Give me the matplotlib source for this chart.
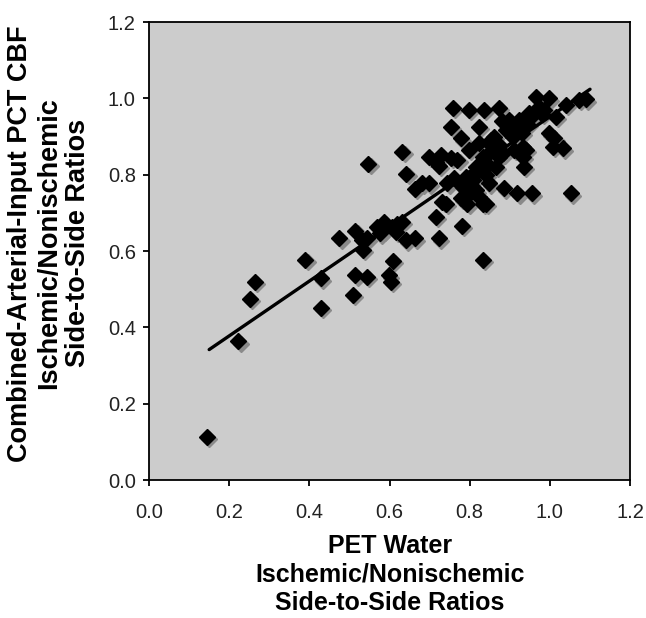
import matplotlib
matplotlib.use("Agg")
import matplotlib.pyplot as plt
import matplotlib.transforms as mtransforms
import numpy as np

plt.rcParams['font.family'] = ['Liberation Sans', 'DejaVu Sans']

pet_water = [0.145, 0.223, 0.251, 0.265, 0.390, 0.429, 0.429, 0.475, 0.508, 0.515,
             0.543, 0.515, 0.534, 0.543, 0.547, 0.569, 0.586, 0.582, 0.607, 0.598,
             0.604, 0.609, 0.615, 0.630, 0.640, 0.663, 0.632, 0.642, 0.663, 0.680,
             0.698, 0.698, 0.715, 0.728, 0.723, 0.715, 0.723, 0.732, 0.744, 0.753,
             0.757, 0.753, 0.778, 0.769, 0.780, 0.778, 0.782, 0.794, 0.798, 0.798,
             0.790, 0.807, 0.815, 0.832, 0.823, 0.836, 0.840, 0.832, 0.832, 0.848,
             0.873, 0.853, 0.865, 0.882, 0.886, 0.907, 0.919, 0.936, 0.940, 0.955,
             0.898, 0.923, 0.944, 0.965, 0.998, 0.986, 1.015, 1.040, 1.073, 1.090,
             1.007, 1.011, 1.032, 1.053, 0.998, 0.973, 0.932, 0.919, 0.890, 0.848,
             0.790, 0.823, 0.832, 0.773, 0.815, 0.865, 0.823, 0.844, 0.873, 0.948,
             0.911, 0.932, 0.530, 0.575, 0.619, 0.740, 0.805, 0.760, 0.860, 0.900,
             0.810, 0.840, 0.870, 0.895, 0.915, 0.930, 0.955, 0.980, 0.880, 0.850]
pct_cbf = [0.112, 0.363, 0.475, 0.519, 0.577, 0.528, 0.451, 0.633, 0.486, 0.536,
           0.532, 0.652, 0.602, 0.633, 0.828, 0.663, 0.676, 0.654, 0.663, 0.536,
           0.519, 0.574, 0.650, 0.676, 0.628, 0.633, 0.860, 0.803, 0.762, 0.777,
           0.777, 0.847, 0.834, 0.851, 0.822, 0.689, 0.633, 0.729, 0.777, 0.843,
           0.974, 0.926, 0.895, 0.838, 0.665, 0.738, 0.768, 0.724, 0.969, 0.864,
           0.794, 0.786, 0.759, 0.576, 0.926, 0.969, 0.724, 0.847, 0.812, 0.777,
           0.974, 0.891, 0.864, 0.856, 0.764, 0.899, 0.751, 0.821, 0.864, 0.751,
           0.943, 0.943, 0.934, 1.004, 1.000, 0.969, 0.952, 0.982, 0.996, 0.997,
           0.873, 0.895, 0.869, 0.751, 0.908, 0.978, 0.873, 0.917, 0.917, 0.856,
           0.742, 0.742, 0.724, 0.777, 0.821, 0.821, 0.883, 0.829, 0.847, 0.961,
           0.864, 0.847, 0.630, 0.646, 0.672, 0.724, 0.760, 0.790, 0.900, 0.925,
           0.800, 0.800, 0.880, 0.925, 0.930, 0.910, 0.955, 0.960, 0.940, 0.880]

trend_x = [0.15, 1.10]
trend_slope = 0.718
trend_intercept = 0.234

x_ticks = [0.0, 0.2, 0.4, 0.6, 0.8, 1.0, 1.2]
y_ticks = [0.0, 0.2, 0.4, 0.6, 0.8, 1.0, 1.2]

fig = plt.figure(figsize=(6.46, 6.18), dpi=100)
ax = fig.add_axes([0.2307, 0.2233, 0.7447, 0.7411])
ax.set_facecolor('#cccccc')

# soft shadow under each marker
shadow = mtransforms.offset_copy(ax.transData, fig=fig, x=1.6, y=-1.6, units='points')
ax.plot(pet_water, pct_cbf, linestyle='none', marker='D', markersize=8.5,
        color='#8a8a8a', transform=shadow, zorder=2)
ax.plot(pet_water, pct_cbf, linestyle='none', marker='D', markersize=8.5,
        color='black', zorder=3)

tx = np.array(trend_x)
ax.plot(tx, trend_slope * tx + trend_intercept, color='black', linewidth=2.4, zorder=4,
        solid_capstyle='round')

ax.set_xlim(0, 1.2)
ax.set_ylim(0, 1.2)
ax.set_xticks(x_ticks)
ax.set_yticks(y_ticks)
ax.set_xticklabels([f"{v:.1f}" for v in x_ticks], fontsize=14.5)
ax.set_yticklabels([f"{v:.1f}" for v in y_ticks], fontsize=14.5)
ax.tick_params(direction='out', length=4.5, width=1.3, colors='black')
ax.tick_params(axis='x', pad=12)
ax.tick_params(axis='y', pad=5)
for lbl in ax.get_xticklabels() + ax.get_yticklabels():
    lbl.set_color('#222222')
for s in ax.spines.values():
    s.set_linewidth(1.3)
    s.set_color('black')

ax.set_xlabel("PET Water\nIschemic/Nonischemic\nSide-to-Side Ratios",
              fontsize=18, fontweight='bold', labelpad=9, linespacing=1.22)
ax.set_ylabel("Combined-Arterial-Input PCT CBF\nIschemic/Nonischemic\nSide-to-Side Ratios",
              fontsize=19.5, fontweight='bold', linespacing=1.15)
ax.yaxis.set_label_coords(-0.12, 0.517)

fig.savefig("out.png", dpi=100, facecolor='white')
